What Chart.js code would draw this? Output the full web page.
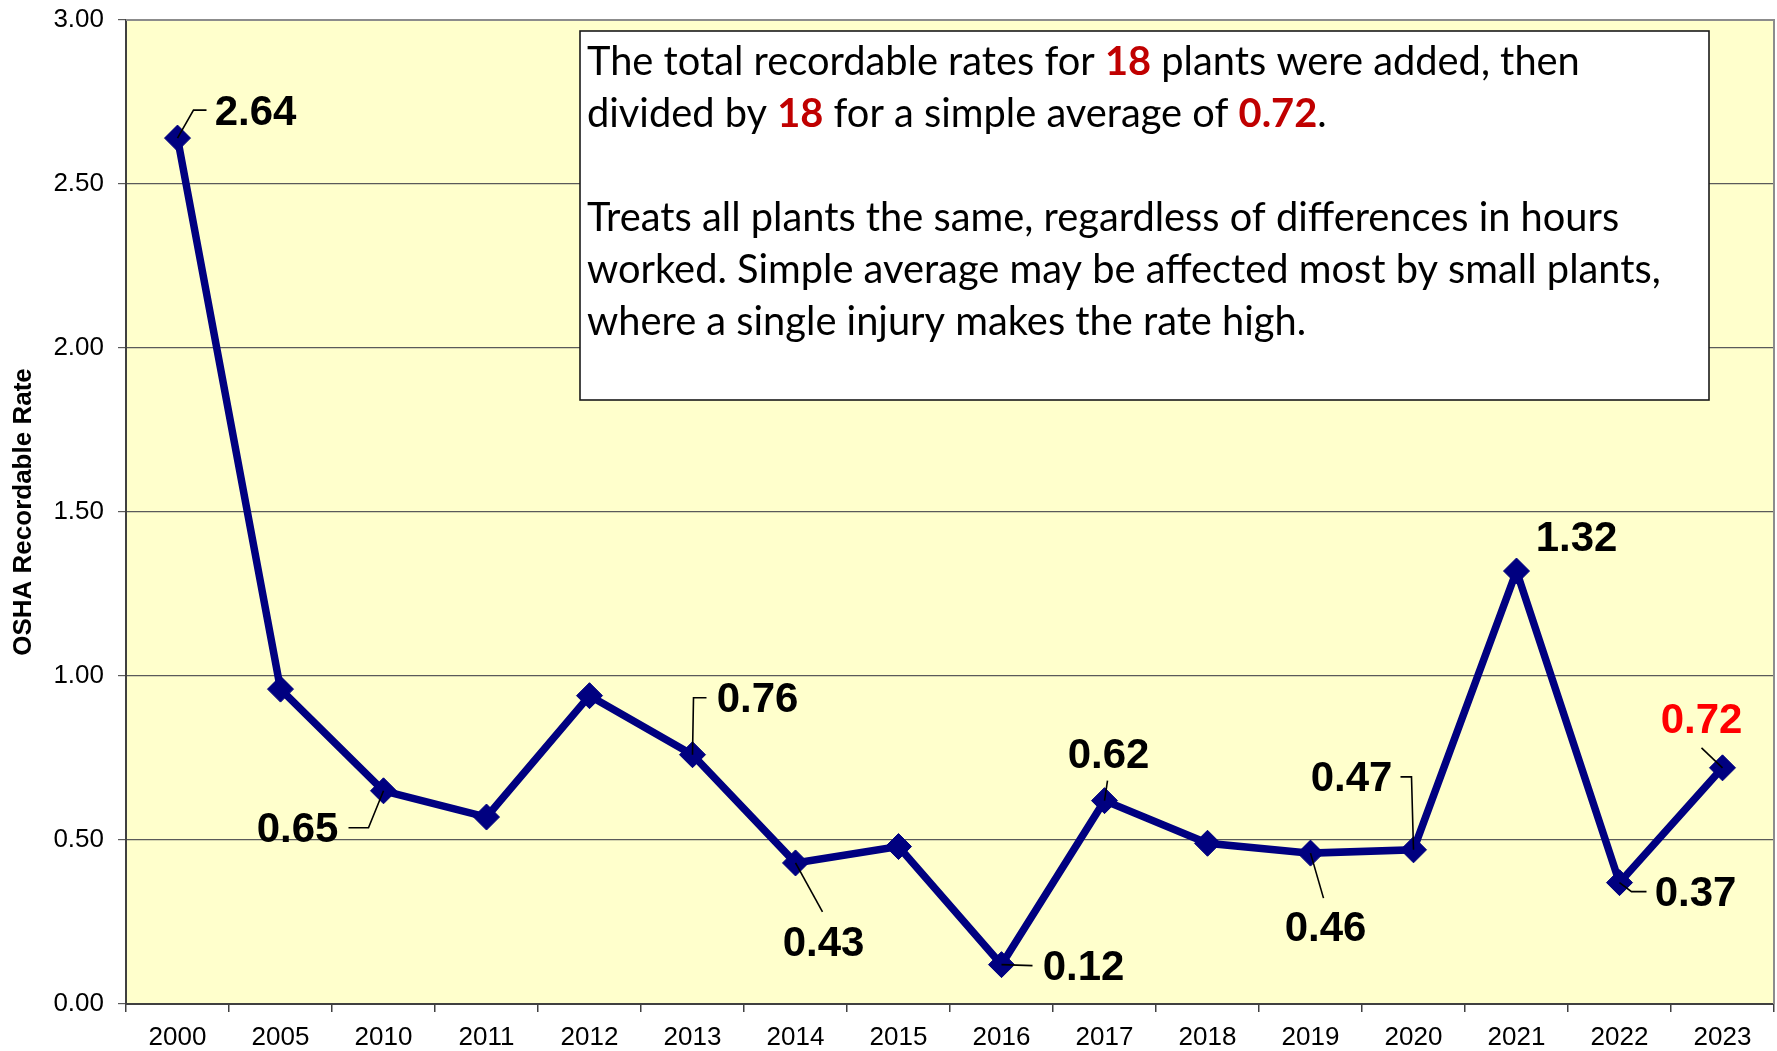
<!DOCTYPE html>
<html>
<head>
<meta charset="utf-8">
<script src="https://cdn.jsdelivr.net/npm/chart.js@4.4.0/dist/chart.umd.min.js"></script>
<style>
html,body{margin:0;padding:0;background:#ffffff;}
canvas{display:block;}
</style>
</head>
<body>
<canvas id="c" width="1777" height="1051"></canvas>
<script>
// ---------- DATA ----------
const categories = ['2000','2005','2010','2011','2012','2013','2014','2015','2016','2017','2018','2019','2020','2021','2022','2023'];
const rates = [2.64, 0.96, 0.65, 0.57, 0.94, 0.76, 0.43, 0.48, 0.12, 0.62, 0.49, 0.46, 0.47, 1.32, 0.37, 0.72];
const yTickValues = [0, 0.5, 1.0, 1.5, 2.0, 2.5, 3.0];
const labelledYears = ['2000','2010','2013','2014','2016','2017','2019','2020','2021','2022','2023'];
const highlightedYear = '2023';
const yAxisTitle = 'OSHA Recordable Rate';
const noteLines = [
  [['The total recordable rates for ', 0], ['18', 1], [' plants were added, then', 0]],
  [['divided by ', 0], ['18', 1], [' for a simple average of ', 0], ['0.72', 1], ['.', 0]],
  [],
  [['Treats all plants the same, regardless of differences in hours', 0]],
  [['worked. Simple average may be affected most by small plants,', 0]],
  [['where a single injury makes the rate high.', 0]]
];

// ---------- LABEL PLACEMENT (styling, px offsets from each point) ----------
const labelPlacement = {
  '2000': {dx: 78, dy: -27, leader: [[0,0],[16,-28],[29,-28]]},
  '2010': {dx: -86, dy: 38, leader: [[0,0],[-15,37],[-35,37]]},
  '2013': {dx: 65, dy: -56, leader: [[0,0],[1,-57],[14,-57]]},
  '2014': {dx: 28, dy: 79, leader: [[0,0],[27,49]]},
  '2016': {dx: 82, dy: 2, leader: [[0,0],[31,1]]},
  '2017': {dx: 4, dy: -46, leader: [[0,0],[3,-20]]},
  '2019': {dx: 15, dy: 74, leader: [[0,0],[13,45]]},
  '2020': {dx: -62, dy: -72, leader: [[0,0],[-2,-73],[-13,-73]]},
  '2021': {dx: 60, dy: -34, leader: null},
  '2022': {dx: 76, dy: 10, leader: [[0,0],[12,9],[27,9]]},
  '2023': {dx: -21, dy: -48, leader: [[0,0],[-21,-20]]}
};

const PLOT_BG = '#FFFFCC';
const LINE_COLOR = '#000080';

const decor = {
  id: 'decor',
  beforeDraw(chart) {
    const {ctx, chartArea: a} = chart;
    ctx.save();
    ctx.fillStyle = '#ffffff';
    ctx.fillRect(0, 0, chart.width, chart.height);
    ctx.fillStyle = PLOT_BG;
    ctx.fillRect(a.left, a.top, a.right - a.left, a.bottom - a.top);
    ctx.restore();
  },
  afterDatasetsDraw(chart) {
    const {ctx, chartArea: a} = chart;
    ctx.save();
    // top & right plot border
    ctx.strokeStyle = '#8c8c8c';
    ctx.lineWidth = 2;
    ctx.beginPath();
    ctx.moveTo(a.left, a.top);
    ctx.lineTo(a.right, a.top);
    ctx.lineTo(a.right, a.bottom);
    ctx.stroke();

    // annotation box
    const bx = 580, by = 31, bw = 1129, bh = 369;
    ctx.fillStyle = '#ffffff';
    ctx.fillRect(bx, by, bw, bh);
    ctx.strokeStyle = '#1a1a1a';
    ctx.lineWidth = 1.6;
    ctx.strokeRect(bx, by, bw, bh);

    const fam = 'Lato, "Open Sans", sans-serif';
    const fontFor = (size, b) => (b ? 'bold ' : '') + size + 'px ' + fam;
    let w100 = 0;
    noteLines[0].forEach(([t, b]) => { ctx.font = fontFor(100, b); w100 += ctx.measureText(t).width; });
    const fs = 100 * 993 / w100;
    ctx.textBaseline = 'alphabetic';
    ctx.textAlign = 'left';
    const baselines = [75, 127, 179, 231, 283, 335];
    noteLines.forEach((segs, li) => {
      let x = 587;
      segs.forEach(([t, b]) => {
        ctx.font = fontFor(fs, b);
        ctx.fillStyle = b ? '#C00000' : '#000000';
        ctx.fillText(t, x, baselines[li]);
        x += ctx.measureText(t).width;
      });
    });

    // data labels with leader lines
    const meta = chart.getDatasetMeta(0);
    ctx.strokeStyle = '#000000';
    ctx.lineWidth = 1.6;
    labelledYears.forEach(yr => {
      const i = categories.indexOf(yr);
      const pt = meta.data[i];
      const pl = labelPlacement[yr];
      if (pl.leader) {
        ctx.beginPath();
        pl.leader.forEach(([lx, ly], k) => {
          if (k === 0) ctx.moveTo(pt.x + lx, pt.y + ly);
          else ctx.lineTo(pt.x + lx, pt.y + ly);
        });
        ctx.stroke();
      }
      ctx.font = 'bold 42px "Liberation Sans", Arial, sans-serif';
      ctx.textAlign = 'center';
      ctx.textBaseline = 'middle';
      ctx.fillStyle = yr === highlightedYear ? '#FF0000' : '#000000';
      ctx.fillText(rates[i].toFixed(2), pt.x + pl.dx, pt.y + pl.dy + 2);
    });
    ctx.restore();
  }
};

new Chart(document.getElementById('c'), {
  type: 'line',
  data: {
    labels: categories,
    datasets: [{
      data: rates,
      borderColor: LINE_COLOR,
      backgroundColor: LINE_COLOR,
      borderWidth: 7.5,
      tension: 0,
      fill: false,
      pointStyle: 'rectRot',
      pointRadius: 13,
      pointBorderWidth: 1,
      pointBackgroundColor: LINE_COLOR,
      pointBorderColor: LINE_COLOR
    }]
  },
  options: {
    responsive: false,
    animation: false,
    events: [],
    layout: {autoPadding: false, padding: {top: 20, right: 3, left: 0, bottom: 0}},
    plugins: {legend: {display: false}, tooltip: {enabled: false}},
    scales: {
      x: {
        type: 'category',
        offset: true,
        afterFit: s => { s.height = 47; s.paddingLeft = 0; s.paddingRight = 0; },
        grid: {offset: true, drawOnChartArea: false, drawTicks: true, tickLength: 8, color: '#404040', lineWidth: 1.5},
        border: {display: true, color: '#404040', width: 2},
        ticks: {font: {family: '"Liberation Sans", Arial, sans-serif', size: 26}, color: '#000000', padding: 10, maxRotation: 0, autoSkip: false}
      },
      y: {
        min: 0, max: 3,
        afterFit: s => { s.width = 126; s.paddingTop = 0; s.paddingBottom = 0; },
        afterBuildTicks: s => { s.ticks = yTickValues.map(v => ({value: v})); },
        grid: {color: '#5a5a5a', lineWidth: 1.2, tickLength: 8, drawTicks: true},
        border: {display: true, color: '#404040', width: 2},
        ticks: {
          font: {family: '"Liberation Sans", Arial, sans-serif', size: 26},
          color: '#000000', padding: 14,
          callback: v => Number(v).toFixed(2)
        },
        title: {
          display: true, text: yAxisTitle, color: '#000000',
          font: {family: '"Liberation Sans", Arial, sans-serif', size: 26, weight: 'bold'},
          padding: {top: 8, bottom: 4}
        }
      }
    }
  },
  plugins: [decor]
});
</script>
</body>
</html>
